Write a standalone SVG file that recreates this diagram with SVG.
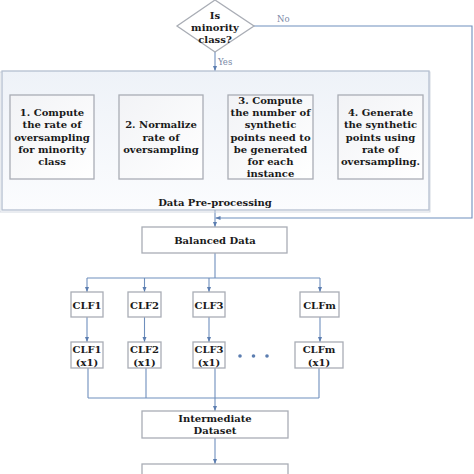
<svg xmlns="http://www.w3.org/2000/svg" width="474" height="474" viewBox="0 0 474 474">
<defs>
<linearGradient id="gOuter" x1="0" y1="0" x2="0" y2="1">
<stop offset="0" stop-color="#eef2f8"/>
<stop offset="1" stop-color="#fbfcfe"/>
</linearGradient>
<linearGradient id="gInner" x1="0" y1="0" x2="1" y2="1">
<stop offset="0" stop-color="#f2f3f6"/>
<stop offset="1" stop-color="#ffffff"/>
</linearGradient>
<marker id="ah" viewBox="0 0 10 10" refX="10" refY="5" markerWidth="5" markerHeight="5" orient="auto" markerUnits="userSpaceOnUse">
<path d="M0,1 L10,5 L0,9 Z" fill="#5b7db0"/>
</marker>
</defs>
<style>
.t{font-family:"DejaVu Serif","Liberation Serif",serif;font-weight:bold;font-size:10px;fill:#1a1a1a;text-anchor:middle}
.lbl{font-family:"DejaVu Serif","Liberation Serif",serif;font-size:8.5px;fill:#7a88a6}
.box{fill:#ffffff;stroke:#a9adb5;stroke-width:1.3}
.ibox{fill:url(#gInner);stroke:#a9adb5;stroke-width:1.3}
.c{fill:none;stroke:#6f8fbd;stroke-width:1.1}
.ca{fill:none;stroke:#6f8fbd;stroke-width:1.1;marker-end:url(#ah)}
</style>
<rect width="474" height="474" fill="#ffffff"/>

<g id="connectors">
<path class="c" d="M254,26 L472,26 L472,218 L218,218"/>
<path class="ca" d="M219,218 L215.5,218"/>
<path class="ca" d="M215,52 L215,71"/>
<path class="ca" d="M94,137 L119,137"/>
<path class="ca" d="M203,137 L228,137"/>
<path class="ca" d="M313,137 L338,137"/>
<path class="ca" d="M215,210 L215,227"/>
<path class="c" d="M215,253 L215,278 M87,278 L320,278"/>
<path class="ca" d="M87,278 L87,292"/>
<path class="ca" d="M144.5,278 L144.5,292"/>
<path class="ca" d="M209,278 L209,292"/>
<path class="ca" d="M320,278 L320,292"/>
<path class="ca" d="M87,317 L87,342"/>
<path class="ca" d="M144.5,317 L144.5,342"/>
<path class="ca" d="M209,317 L209,342"/>
<path class="ca" d="M320,317 L320,342"/>
<path class="c" d="M88,368 L88,398 M146,368 L146,398 M215,368 L215,398 M319,368 L319,398 M88,398 L319,398"/>
<path class="ca" d="M215,398 L215,411"/>
<path class="ca" d="M215,438 L215,464"/>
<text class="lbl" x="277" y="22">No</text>
<text class="lbl" x="218" y="65">Yes</text>
</g>

<g id="decision">
<polygon points="215,0 254,26 215,52 177,26" fill="#ffffff" stroke="#a9adb5" stroke-width="1.3"/>
<text class="t" x="215" y="19">Is</text>
<text class="t" x="215" y="31">minority</text>
<text class="t" x="215" y="43">class?</text>
</g>

<g id="preprocessing">
<rect x="0" y="72" width="430" height="140" fill="none" stroke="#d4d9e2" stroke-width="1"/>
<rect x="2" y="71" width="427" height="139" fill="url(#gOuter)" stroke="#b4bfd0" stroke-width="1.3"/>
<text class="t" x="215" y="206">Data Pre-processing</text>
</g>

<g id="step1">
<rect class="ibox" x="10" y="95" width="84" height="84"/>
<text class="t" x="52" y="116">1. Compute</text>
<text class="t" x="52" y="128">the rate of</text>
<text class="t" x="52" y="140.5">oversampling</text>
<text class="t" x="52" y="153">for minority</text>
<text class="t" x="52" y="165">class</text>
</g>

<g id="step2">
<rect class="ibox" x="119" y="95" width="84" height="84"/>
<text class="t" x="161" y="128">2. Normalize</text>
<text class="t" x="161" y="140.5">rate of</text>
<text class="t" x="161" y="153">oversampling</text>
</g>

<g id="step3">
<rect class="ibox" x="228" y="95" width="85" height="84"/>
<text class="t" x="270.5" y="104">3. Compute</text>
<text class="t" x="270.5" y="116">the number of</text>
<text class="t" x="270.5" y="128">synthetic</text>
<text class="t" x="270.5" y="140.5">points need to</text>
<text class="t" x="270.5" y="153">be generated</text>
<text class="t" x="270.5" y="165">for each</text>
<text class="t" x="270.5" y="177">instance</text>
</g>

<g id="step4">
<rect class="ibox" x="338" y="95" width="85" height="84"/>
<text class="t" x="380.5" y="116">4. Generate</text>
<text class="t" x="380.5" y="128">the synthetic</text>
<text class="t" x="380.5" y="140.5">points using</text>
<text class="t" x="380.5" y="153">rate of</text>
<text class="t" x="380.5" y="165">oversampling.</text>
</g>

<g id="balanced">
<rect class="box" x="142" y="227" width="145" height="26"/>
<text class="t" x="215" y="244">Balanced Data</text>
</g>

<g id="clf1"><rect class="box" x="71" y="292" width="32" height="25"/><text class="t" x="87" y="308.5">CLF1</text></g>
<g id="clf2"><rect class="box" x="128" y="292" width="33" height="25"/><text class="t" x="144.5" y="308.5">CLF2</text></g>
<g id="clf3"><rect class="box" x="193" y="292" width="32" height="25"/><text class="t" x="209" y="308.5">CLF3</text></g>
<g id="clfm"><rect class="box" x="300" y="292" width="39" height="25"/><text class="t" x="319.5" y="308.5">CLFm</text></g>

<g id="clf1x"><rect class="box" x="71" y="342" width="32" height="26"/><text class="t" x="87" y="353">CLF1</text><text class="t" x="87" y="365.5">(x1)</text></g>
<g id="clf2x"><rect class="box" x="128" y="342" width="33" height="26"/><text class="t" x="144.5" y="353">CLF2</text><text class="t" x="144.5" y="365.5">(x1)</text></g>
<g id="clf3x"><rect class="box" x="193" y="342" width="32" height="26"/><text class="t" x="209" y="353">CLF3</text><text class="t" x="209" y="365.5">(x1)</text></g>
<g id="clfmx"><rect class="box" x="295" y="342" width="48" height="26"/><text class="t" x="319" y="353">CLFm</text><text class="t" x="319" y="365.5">(x1)</text></g>

<g id="dots" fill="#5b7db0">
<circle cx="240" cy="356" r="1.8"/>
<circle cx="253.5" cy="356" r="1.8"/>
<circle cx="267" cy="356" r="1.8"/>
</g>

<g id="intermediate">
<rect class="box" x="142" y="411" width="146" height="27"/>
<text class="t" x="215" y="422">Intermediate</text>
<text class="t" x="215" y="434">Dataset</text>
</g>

<g id="next">
<rect class="box" x="142" y="464" width="146" height="20" stroke="#c4c8ce"/>
</g>
</svg>
